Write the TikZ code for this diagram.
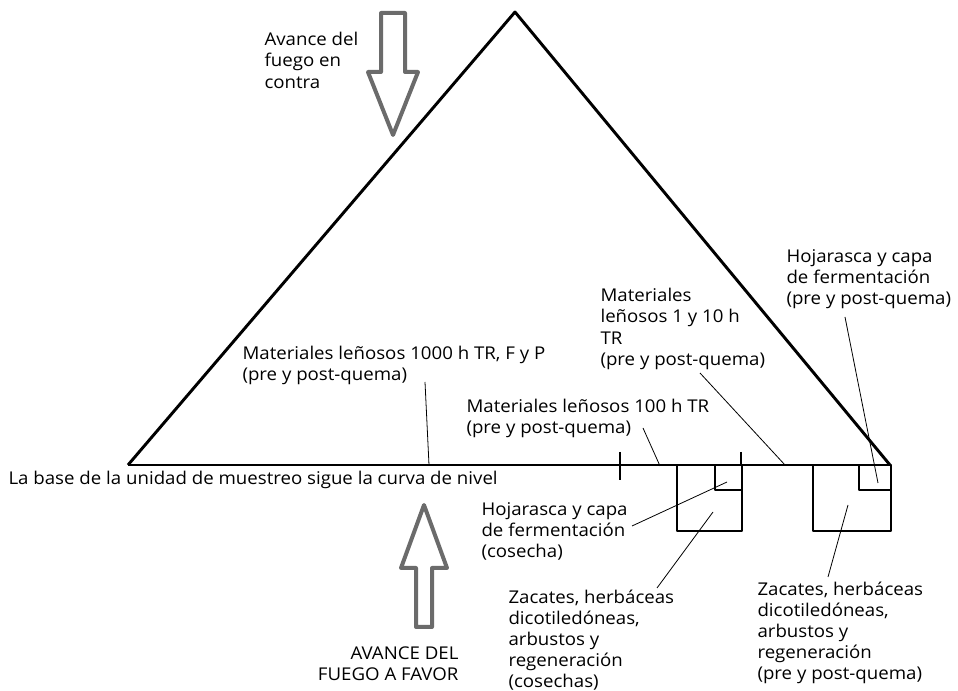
\documentclass[tikz,border=0pt]{standalone}
\usepackage{fontspec}
\setmainfont{Open Sans}[FakeStretch=1.06]

\begin{document}
\begin{tikzpicture}[x=0.75pt,y=-0.75pt,
		thick,line join=round,
		label node/.style={anchor=north west,inner sep=0pt,align=left,font=\fontsize{13.2}{15.8}\selectfont},
		fire arrow/.style={draw=black!58,line width=3pt,line join=round},
		plot box/.style={draw,line width=1.9pt},
		leader/.style={draw,line width=0.6pt}]
		\useasboundingbox (0,0) rectangle (958,691);
		% triangle of the sampling unit
		\coordinate (tA) at (515,12);
		\coordinate (tL) at (128,465);
		\coordinate (tR) at (890,465);
		\draw[line width=2.2pt] (tL) -- (tA) -- (tR);
		\draw[line width=1.9pt] (tL) -- (tR);
		% ticks and plots on the base
		\coordinate (k1) at (620,452);
		\coordinate (k1b) at (620,480);
		\coordinate (k2) at (741,452);
		\coordinate (k2b) at (741,466);
		\draw[line width=1.9pt] (k1) -- (k1b) (k2) -- (k2b);
		\draw[plot box] (677,465) rectangle (742,531);
		\draw[plot box] (715,465) rectangle (742,490);
		\draw[plot box] (813,465) rectangle (891,531);
		\draw[plot box] (859,465) rectangle (891,490);
		% fire arrows
		\draw[fire arrow] (381,13) -- (405,13) -- (405,72) -- (418,72) -- (393,135) -- (368,72) -- (381,72) -- cycle;
		\draw[fire arrow] (424,505) -- (447,568) -- (432,568) -- (432,627) -- (416,627) -- (416,568) -- (401,568) -- cycle;
		% labels
		\node[label node] (fuegoC) at (264,32) {Avance del\\fuego en\\contra};
		\node[label node] (m110) at (600,288) {Materiales\\leñosos 1 y 10 h\\TR\\(pre y post-quema)};
		\node[label node] (hojaR) at (786,249) {Hojarasca y capa\\de fermentación\\(pre y post-quema)};
		\node[label node] (m1000) at (242,346) {Materiales leñosos 1000 h TR, F y P\\(pre y post-quema)};
		\node[label node] (m100) at (466,399) {Materiales leñosos 100 h TR\\(pre y post-quema)};
		\node[label node] (base) at (8,471) {La base de la unidad de muestreo sigue la curva de nivel};
		\node[label node] (hojaC) at (481,502) {Hojarasca y capa\\de fermentación\\(cosecha)};
		\node[label node] (zacC) at (508,589) {Zacates, herbáceas\\dicotiledóneas,\\arbustos y\\regeneración\\(cosechas)};
		\node[label node] (zacR) at (757,581) {Zacates, herbáceas\\dicotiledóneas,\\arbustos y\\regeneración\\(pre y post-quema)};
		\node[label node,anchor=north east,align=right] (favor) at (459,646) {AVANCE DEL\\FUEGO A FAVOR};
		% leader lines
		\coordinate (a1000) at (425,382);  \coordinate (b1000) at (429,465);
		\coordinate (a100) at (643,428);   \coordinate (b100) at (660,466);
		\coordinate (a110) at (700,373);   \coordinate (b110) at (785,465);
		\coordinate (ahR) at (845,317);    \coordinate (bhR) at (878,483);
		\coordinate (ahC) at (632,526);    \coordinate (bhC) at (727,482);
		\coordinate (azC) at (657,588);    \coordinate (bzC) at (713,512);
		\coordinate (azR) at (828,577);    \coordinate (bzR) at (848,505);
		\path[leader]
		(a1000) edge (b1000)
		(a100) edge (b100)
		(a110) edge (b110)
		(ahR) edge (bhR)
		(ahC) edge (bhC)
		(azC) edge (bzC)
		(azR) edge (bzR);
\end{tikzpicture}
\end{document}
